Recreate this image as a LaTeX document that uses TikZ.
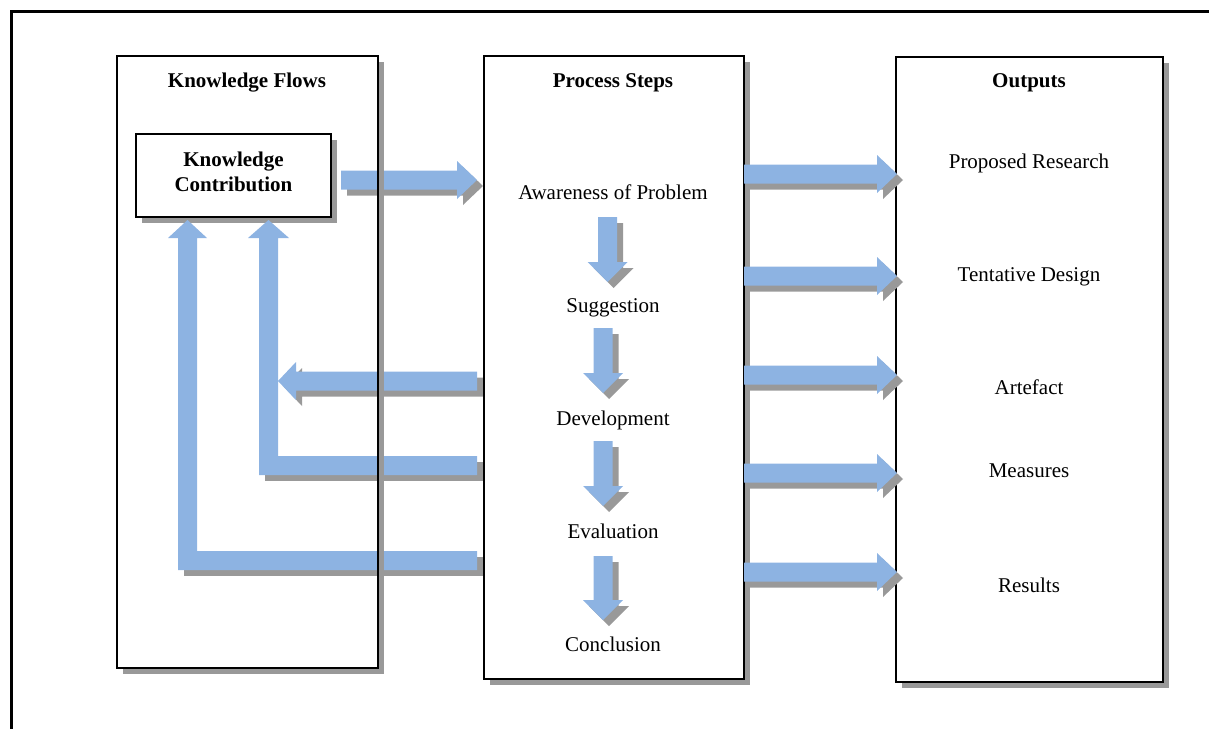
\documentclass[tikz,border=0pt]{standalone}
\usepackage{fontspec}
\setmainfont{Liberation Serif}
\definecolor{flowblue}{HTML}{8DB3E2}
\definecolor{dropgray}{HTML}{999999}

% fat block arrows: body 19 wide, head 38 wide and 20 long
\newcommand\fatR[3]{% start x, tip x, centre y
  \fill[dropgray,shift={(6,6)}] (#1,#3-9.5) -- (#2-20,#3-9.5) -- (#2-20,#3-19) -- (#2,#3) -- (#2-20,#3+19) -- (#2-20,#3+9.5) -- (#1,#3+9.5) -- cycle;
  \fill[flowblue] (#1,#3-9.5) -- (#2-20,#3-9.5) -- (#2-20,#3-19) -- (#2,#3) -- (#2-20,#3+19) -- (#2-20,#3+9.5) -- (#1,#3+9.5) -- cycle;}
\newcommand\fatL[3]{% start x, tip x, centre y
  \fill[dropgray,shift={(6,6)}] (#1,#3-9.5) -- (#2+18,#3-9.5) -- (#2+18,#3-19) -- (#2,#3) -- (#2+18,#3+19) -- (#2+18,#3+9.5) -- (#1,#3+9.5) -- cycle;
  \fill[flowblue] (#1,#3-9.5) -- (#2+18,#3-9.5) -- (#2+18,#3-19) -- (#2,#3) -- (#2+18,#3+19) -- (#2+18,#3+9.5) -- (#1,#3+9.5) -- cycle;}
\newcommand\fatD[3]{% centre x, top y, tip y
  \fill[dropgray,shift={(6,6)}] (#1-9.5,#2) -- (#1+9.5,#2) -- (#1+9.5,#3-20) -- (#1+20,#3-20) -- (#1,#3) -- (#1-20,#3-20) -- (#1-9.5,#3-20) -- cycle;
  \fill[flowblue] (#1-9.5,#2) -- (#1+9.5,#2) -- (#1+9.5,#3-20) -- (#1+20,#3-20) -- (#1,#3) -- (#1-20,#3-20) -- (#1-9.5,#3-20) -- cycle;}
% box outline with its drop shadow strips
\newcommand\shadowbox[4]{% x1, y1, x2, y2
  \fill[dropgray] (#3,#2+6) rectangle (#3+6,#4+6);
  \fill[dropgray] (#1+6,#4) rectangle (#3+6,#4+6);
  \draw[boxline] (#1,#2) rectangle (#3,#4);}

\begin{document}
\begin{tikzpicture}[x=1pt,y=-1pt,
  lbl/.style={font=\fontsize{21}{25}\selectfont, inner sep=0pt, anchor=base, align=center},
  ttl/.style={lbl, font=\fontsize{21}{25}\selectfont\bfseries},
  boxline/.style={draw=black, line width=1.5pt},
  ]
\useasboundingbox (0,0) rectangle (1209,728);

% outer frame
\draw[line width=3pt] (11,11.5) rectangle (1230,745);

% knowledge contribution box
\fill[dropgray] (142,140) rectangle (337,223);
\filldraw[fill=white, boxline] (136,134) rectangle (331,217);
\node[lbl, anchor=center] (kc) at (233.5,172) {\bfseries Knowledge\\\bfseries Contribution};

% flow from the contribution into the process
\fatR{341}{477}{180}

% feedback flows from the process back to the contribution
\fatL{477}{278}{381}
\fill[dropgray] (265,462) rectangle (483,481);
\fill[flowblue] (259,475) -- (259,238) -- (248,238) -- (268.5,220) -- (289,238) -- (278,238)
  -- (278,456) -- (477,456) -- (477,475) -- cycle;
\fill[dropgray] (184,557) rectangle (483,576);
\fill[flowblue] (178,570) -- (178,238) -- (168,238) -- (187.5,220) -- (207,238) -- (197,238)
  -- (197,551) -- (477,551) -- (477,570) -- cycle;

% the three column boxes
\shadowbox{117}{56}{378}{668}
\shadowbox{484}{56}{744}{679}
\shadowbox{896}{57}{1163}{682}

% flows from the process to the outputs
\fatR{744}{897}{174}
\fatR{744}{897}{276}
\fatR{744}{897}{375}
\fatR{744}{897}{473}
\fatR{744}{897}{572}

% steps of the process
\fatD{607.5}{217}{282}
\fatD{603}{328}{393}
\fatD{603}{441}{506}
\fatD{603}{556}{620}

% headings
\node[ttl] (kf) at (247,87) {Knowledge Flows};
\node[ttl] (ps) at (613,87) {Process Steps};
\node[ttl] (out) at (1029,87) {Outputs};

% process steps
\node[lbl] (aw) at (613,199) {Awareness of Problem};
\node[lbl] (sg) at (613,312) {Suggestion};
\node[lbl] (dv) at (613,425) {Development};
\node[lbl] (ev) at (613,538) {Evaluation};
\node[lbl] (cn) at (613,651) {Conclusion};

% outputs
\node[lbl] (pr) at (1029,168) {Proposed Research};
\node[lbl] (td) at (1029,281) {Tentative Design};
\node[lbl] (ar) at (1029,394) {Artefact};
\node[lbl] (ms) at (1029,477) {Measures};
\node[lbl] (rs) at (1029,592) {Results};
\end{tikzpicture}
\end{document}
